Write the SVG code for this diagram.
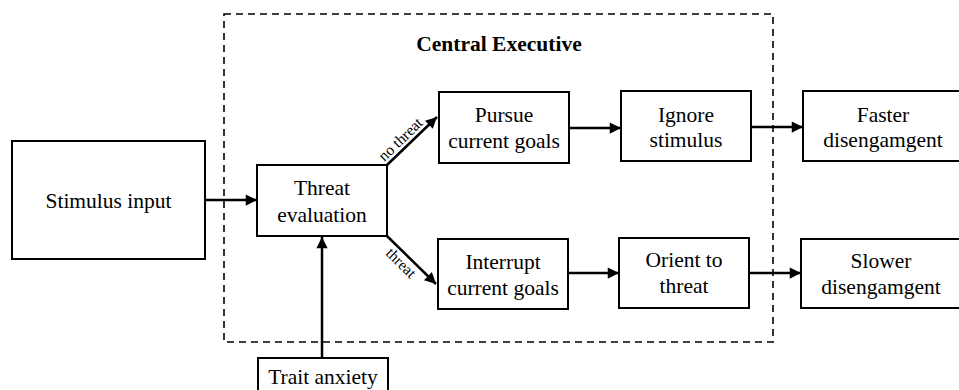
<svg xmlns="http://www.w3.org/2000/svg" width="959" height="390" viewBox="0 0 959 390">
<style>
  .box { fill: #fff; stroke: #000; stroke-width: 2; }
  .t { font-family: "Liberation Serif", "Times New Roman", serif; font-size: 21.5px; fill: #000; text-anchor: middle; }
  .lbl { font-family: "Liberation Serif", "Times New Roman", serif; font-size: 15.5px; fill: #000; text-anchor: middle; }
  .title { font-family: "Liberation Serif", "Times New Roman", serif; font-size: 21.5px; font-weight: bold; fill: #000; text-anchor: middle; }
  .arr { stroke: #000; stroke-width: 2.5; fill: none; marker-end: url(#ah); }
  .dash { fill: none; stroke: #000; stroke-width: 1.6; stroke-dasharray: 7 5; }
</style>
<defs>
  <marker id="ah" viewBox="0 0 10 10" refX="10" refY="5" markerWidth="6" markerHeight="4.5" markerUnits="strokeWidth" orient="auto">
    <path d="M0,0 L10,5 L0,10 z" fill="#000"/>
  </marker>
</defs>
<rect width="959" height="390" fill="#fff"/>

<g id="central-executive">
  <rect class="dash" x="224" y="14" width="549" height="328"/>
  <text class="title" x="499" y="51">Central Executive</text>
</g>

<g id="connectors">
  <line class="arr" x1="205" y1="200" x2="257" y2="200"/>
  <line class="arr" x1="322" y1="358" x2="322" y2="237"/>
  <line class="arr" x1="387" y1="165" x2="437" y2="117"/>
  <line class="arr" x1="387" y1="236" x2="436" y2="284"/>
  <line class="arr" x1="569" y1="128" x2="621" y2="128"/>
  <line class="arr" x1="751" y1="127" x2="803" y2="127"/>
  <line class="arr" x1="568" y1="273" x2="619" y2="273"/>
  <line class="arr" x1="749" y1="273" x2="801" y2="273"/>
  <text class="lbl" transform="translate(404,143) rotate(-44)">no threat</text>
  <text class="lbl" transform="translate(397.5,266.5) rotate(45)">threat</text>
</g>

<g id="stimulus-input">
  <rect class="box" x="12" y="141" width="193" height="118"/>
  <text class="t" x="108.5" y="208">Stimulus input</text>
</g>
<g id="threat-evaluation">
  <rect class="box" x="257" y="165" width="130" height="71"/>
  <text class="t" x="322" y="195">Threat</text>
  <text class="t" x="322" y="222">evaluation</text>
</g>
<g id="trait-anxiety">
  <rect class="box" x="258" y="358" width="130" height="50"/>
  <text class="t" x="323" y="384">Trait anxiety</text>
</g>
<g id="pursue-goals">
  <rect class="box" x="439" y="92" width="130" height="71"/>
  <text class="t" x="504" y="122">Pursue</text>
  <text class="t" x="504" y="148">current goals</text>
</g>
<g id="ignore-stimulus">
  <rect class="box" x="621" y="91" width="130" height="70"/>
  <text class="t" x="686" y="122">Ignore</text>
  <text class="t" x="686" y="147">stimulus</text>
</g>
<g id="faster-disengagement">
  <rect class="box" x="803" y="91" width="160" height="70"/>
  <text class="t" x="883" y="122">Faster</text>
  <text class="t" x="883" y="147">disengamgent</text>
</g>
<g id="interrupt-goals">
  <rect class="box" x="438" y="239" width="130" height="70"/>
  <text class="t" x="503" y="269">Interrupt</text>
  <text class="t" x="503" y="295">current goals</text>
</g>
<g id="orient-threat">
  <rect class="box" x="619" y="238" width="130" height="70"/>
  <text class="t" x="684" y="267">Orient to</text>
  <text class="t" x="684" y="293">threat</text>
</g>
<g id="slower-disengagement">
  <rect class="box" x="801" y="239" width="160" height="69"/>
  <text class="t" x="881" y="268">Slower</text>
  <text class="t" x="881" y="294">disengamgent</text>
</g>
</svg>
